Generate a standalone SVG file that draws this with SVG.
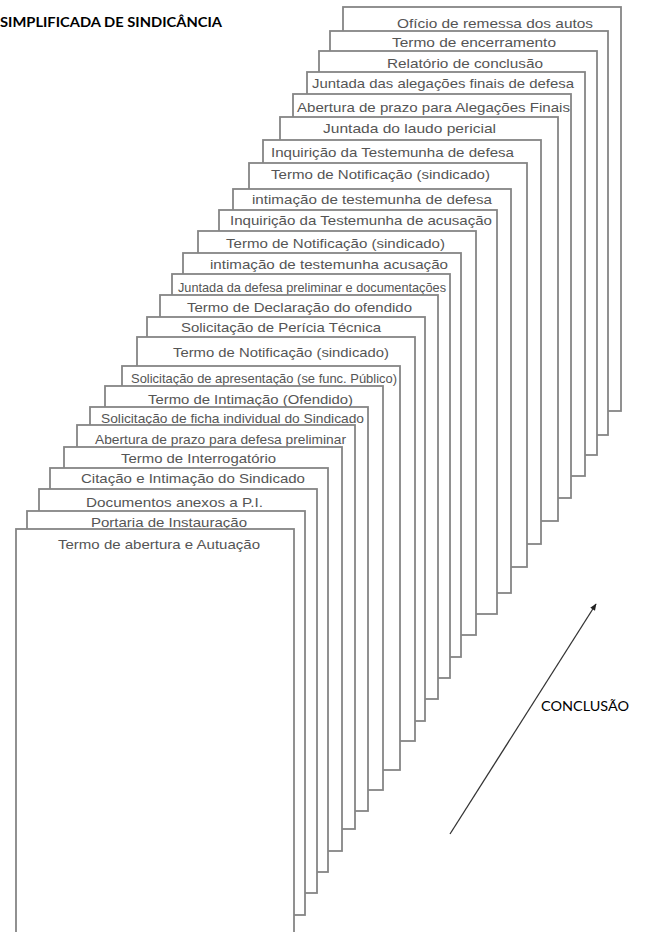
<svg xmlns="http://www.w3.org/2000/svg" width="645" height="932" viewBox="0 0 645 932">
<defs>
<style>
.pg{fill:#fff;stroke:#858585;stroke-width:1.8}
.t{font-family:"Liberation Sans",Arial,sans-serif;font-size:13px;fill:#555}
.title{font-family:Lato,"Open Sans",sans-serif;font-weight:bold;font-size:12.5px;fill:#000}
.lbl{font-family:Lato,"Open Sans",sans-serif;font-size:12.5px;fill:#000}
</style>
<marker id="ah" viewBox="0 0 10 10" refX="9" refY="5" markerWidth="7" markerHeight="7" orient="auto" markerUnits="userSpaceOnUse">
<path d="M0,1 L10,5 L0,9 z" fill="#222"/>
</marker>
</defs>
<rect width="645" height="932" fill="#fff"/>
<text class="title" x="0" y="27" textLength="222" lengthAdjust="spacingAndGlyphs">SIMPLIFICADA DE SINDICÂNCIA</text>
<g id="p1"><rect class="pg" x="343" y="7" width="278" height="404"/><text class="t" x="397" y="27.5" textLength="196" lengthAdjust="spacingAndGlyphs">Ofício de remessa dos autos</text></g>
<g id="p2"><rect class="pg" x="330" y="31" width="278" height="404"/><text class="t" x="392" y="46.5" textLength="164" lengthAdjust="spacingAndGlyphs">Termo de encerramento</text></g>
<g id="p3"><rect class="pg" x="319" y="51" width="278" height="404"/><text class="t" x="387" y="67.5" textLength="156" lengthAdjust="spacingAndGlyphs">Relatório de conclusão</text></g>
<g id="p4"><rect class="pg" x="307" y="72" width="278" height="404"/><text class="t" x="312" y="87.5" textLength="262" lengthAdjust="spacingAndGlyphs">Juntada das alegações finais de defesa</text></g>
<g id="p5"><rect class="pg" x="293" y="94" width="278" height="404"/><text class="t" x="297" y="111.5" textLength="273" lengthAdjust="spacingAndGlyphs">Abertura de prazo para Alegações Finais</text></g>
<g id="p6"><rect class="pg" x="280" y="117" width="278" height="404"/><text class="t" x="323" y="132.5" textLength="173" lengthAdjust="spacingAndGlyphs">Juntada do laudo pericial</text></g>
<g id="p7"><rect class="pg" x="263" y="140" width="278" height="404"/><text class="t" x="271" y="156.5" textLength="243" lengthAdjust="spacingAndGlyphs">Inquirição da Testemunha de defesa</text></g>
<g id="p8"><rect class="pg" x="249" y="163" width="278" height="404"/><text class="t" x="271" y="178.5" textLength="219" lengthAdjust="spacingAndGlyphs">Termo de Notificação (sindicado)</text></g>
<g id="p9"><rect class="pg" x="233" y="189" width="278" height="404"/><text class="t" x="252" y="203.5" textLength="240" lengthAdjust="spacingAndGlyphs">intimação de testemunha de defesa</text></g>
<g id="p10"><rect class="pg" x="219" y="210" width="278" height="404"/><text class="t" x="230" y="224.5" textLength="262" lengthAdjust="spacingAndGlyphs">Inquirição da Testemunha de acusação</text></g>
<g id="p11"><rect class="pg" x="198" y="231" width="278" height="404"/><text class="t" x="226" y="247.5" textLength="219" lengthAdjust="spacingAndGlyphs">Termo de Notificação (sindicado)</text></g>
<g id="p12"><rect class="pg" x="183" y="253" width="278" height="404"/><text class="t" x="210" y="268.5" textLength="238" lengthAdjust="spacingAndGlyphs">intimação de testemunha acusação</text></g>
<g id="p13"><rect class="pg" x="172" y="274" width="278" height="404"/><text class="t" x="178" y="291.5" textLength="268" lengthAdjust="spacingAndGlyphs">Juntada da defesa preliminar e documentações</text></g>
<g id="p14"><rect class="pg" x="160" y="295" width="278" height="404"/><text class="t" x="187" y="311.5" textLength="225" lengthAdjust="spacingAndGlyphs">Termo de Declaração do ofendido</text></g>
<g id="p15"><rect class="pg" x="147" y="317" width="278" height="404"/><text class="t" x="181" y="331.5" textLength="200" lengthAdjust="spacingAndGlyphs">Solicitação de Perícia Técnica</text></g>
<g id="p16"><rect class="pg" x="137" y="337" width="278" height="404"/><text class="t" x="173" y="356.5" textLength="216" lengthAdjust="spacingAndGlyphs">Termo de Notificação (sindicado)</text></g>
<g id="p17"><rect class="pg" x="122" y="366" width="278" height="404"/><text class="t" x="131" y="382.5" textLength="266" lengthAdjust="spacingAndGlyphs">Solicitação de apresentação (se func. Público)</text></g>
<g id="p18"><rect class="pg" x="105" y="386" width="278" height="404"/><text class="t" x="148" y="403.5" textLength="205" lengthAdjust="spacingAndGlyphs">Termo de Intimação (Ofendido)</text></g>
<g id="p19"><rect class="pg" x="90" y="407" width="278" height="404"/><text class="t" x="101" y="422.5" textLength="263" lengthAdjust="spacingAndGlyphs">Solicitação de ficha individual do Sindicado</text></g>
<g id="p20"><rect class="pg" x="77" y="425" width="278" height="404"/><text class="t" x="95" y="443.5" textLength="251" lengthAdjust="spacingAndGlyphs">Abertura de prazo para defesa preliminar</text></g>
<g id="p21"><rect class="pg" x="64" y="447" width="278" height="404"/><text class="t" x="121" y="462.5" textLength="155" lengthAdjust="spacingAndGlyphs">Termo de Interrogatório</text></g>
<g id="p22"><rect class="pg" x="50" y="468" width="278" height="404"/><text class="t" x="81" y="482.5" textLength="224" lengthAdjust="spacingAndGlyphs">Citação e Intimação do Sindicado</text></g>
<g id="p23"><rect class="pg" x="39" y="489" width="278" height="404"/><text class="t" x="86" y="506.5" textLength="177" lengthAdjust="spacingAndGlyphs">Documentos anexos a P.I.</text></g>
<g id="p24"><rect class="pg" x="27" y="511" width="278" height="404"/><text class="t" x="91" y="526.5" textLength="156" lengthAdjust="spacingAndGlyphs">Portaria de Instauração</text></g>
<g id="p25"><rect class="pg" x="16" y="529" width="278" height="404"/><text class="t" x="58" y="548.5" textLength="202" lengthAdjust="spacingAndGlyphs">Termo de abertura e Autuação</text></g>
<g id="connectors">
<line x1="450" y1="834" x2="596" y2="604" stroke="#333" stroke-width="1.3" marker-end="url(#ah)"/>
</g>
<text class="lbl" x="541" y="711" textLength="88" lengthAdjust="spacingAndGlyphs">CONCLUSÃO</text>
</svg>
